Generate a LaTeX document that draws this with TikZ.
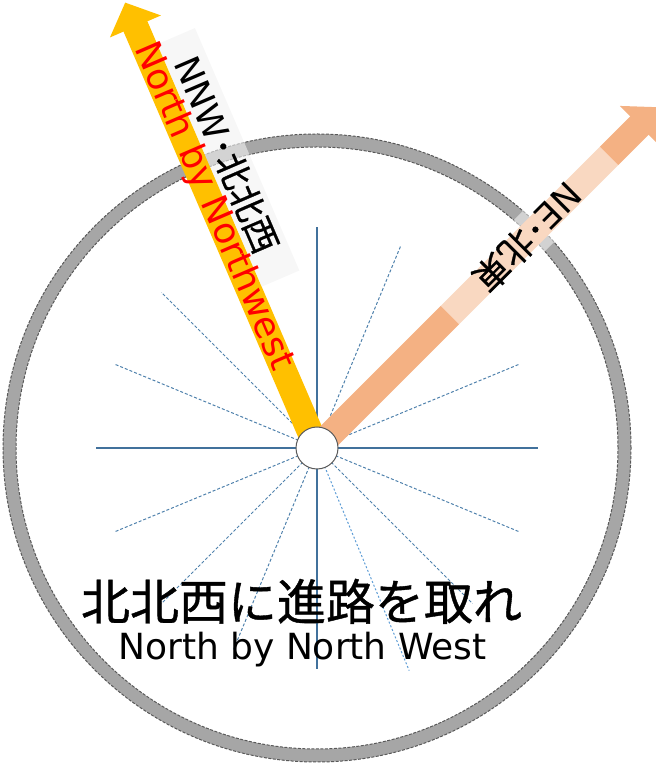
\documentclass[tikz,border=0pt]{standalone}
\usepackage{fontspec}
\setmainfont{DejaVu Sans}
\newfontfamily\jp[FakeBold=0.8]{Noto Sans CJK JP}
\usetikzlibrary{arrows.meta,calc}
\definecolor{raysolid}{HTML}{41719C}
\definecolor{raydash}{HTML}{4F81AC}
\definecolor{raydashlow}{HTML}{5B9BD5}
\definecolor{ringgray}{HTML}{A6A6A6}
\definecolor{ringedge}{HTML}{595959}
\definecolor{nnwyellow}{HTML}{FFC000}
\definecolor{nesalmon}{HTML}{F4B183}
\definecolor{boxgray}{HTML}{F2F2F2}
\begin{document}
\begin{tikzpicture}[x=1pt,y=1pt,
  solidray/.style={raysolid, line width=1.5pt},
  dashray/.style={raydash, line width=1pt, dash pattern=on 3pt off 2pt},
  dashraylight/.style={raydashlow, line width=1pt, dash pattern=on 2pt off 2pt},
  ringline/.style={ringgray, line width=13pt},
  ringborder/.style={ringedge, line width=1pt, dash pattern=on 3pt off 1.5pt},
  bigarrow/.style={line width=26pt, -{Triangle[length=26pt,width=54pt]}},
  labelbox/.style={inner sep=0pt, draw=none},
  lbl/.style={font=\fontsize{35}{35}\selectfont, inner sep=0pt}
]
\useasboundingbox (0,0) rectangle (656,766);
\coordinate (C) at (317,318);
% compass rays
\foreach \a in {0,90,180,270} \draw[solidray] (C) -- ++(\a:221);
\foreach \a in {22.5,45,67.5,112.5,135,157.5,202.5,225,247.5,315,337.5} \draw[dashray] (C) -- ++(\a:220);
\draw[dashraylight] (C) -- ++(292.5:241);
% ring
\draw[ringline] (C) circle[radius=307.5pt];
\draw[ringborder] (C) circle[radius=314pt];
\draw[ringborder] (C) circle[radius=301pt];
% arrows
\coordinate (nnwtip) at ($(C)+(113.3:485)$);
\coordinate (netip) at ($(C)+(45:482)$);
\draw[bigarrow, nnwyellow] (C) -- (nnwtip);
\draw[bigarrow, nesalmon] (C) -- (netip);
% label boxes
\node[labelbox, fill=boxgray, fill opacity=0.6, rotate=-66.7, minimum width=264pt, minimum height=41pt] (nnwbox) at ($(C)+(113.3:302)+(23.3:33.5)$) {};
\node[labelbox, fill=white, fill opacity=0.5, rotate=45, minimum width=225pt, minimum height=44pt] (nebox) at ($(C)+(45:300.5)$) {};
% labels
\node[lbl, rotate=-66.7] (nnwlabel) at ($(C)+(113.3:305)+(23.3:33)$) {NNW{\jp ･北北西}};
\node[lbl, rotate=-135] (nelabel) at ($(C)+(45:298)$) {NE{\jp ･北東}};
\node[inner sep=0pt, rotate=-66.7, text=red, font=\fontsize{36}{36}\selectfont] (nnwname) at ($(C)+(113.3:263)$) {North by Northwest};
% hub
\node[circle, draw=ringedge, fill=white, line width=1pt, minimum size=42pt, inner sep=0pt] (hub) at (C) {};
% titles
\node[anchor=base, font=\jp\fontsize{49}{49}\selectfont] (title) at (301.5,146) {北北西に進路を取れ};
\node[anchor=base, font=\fontsize{36}{36}\selectfont] (subtitle) at (302.5,106) {North by North West};
\end{tikzpicture}
\end{document}
